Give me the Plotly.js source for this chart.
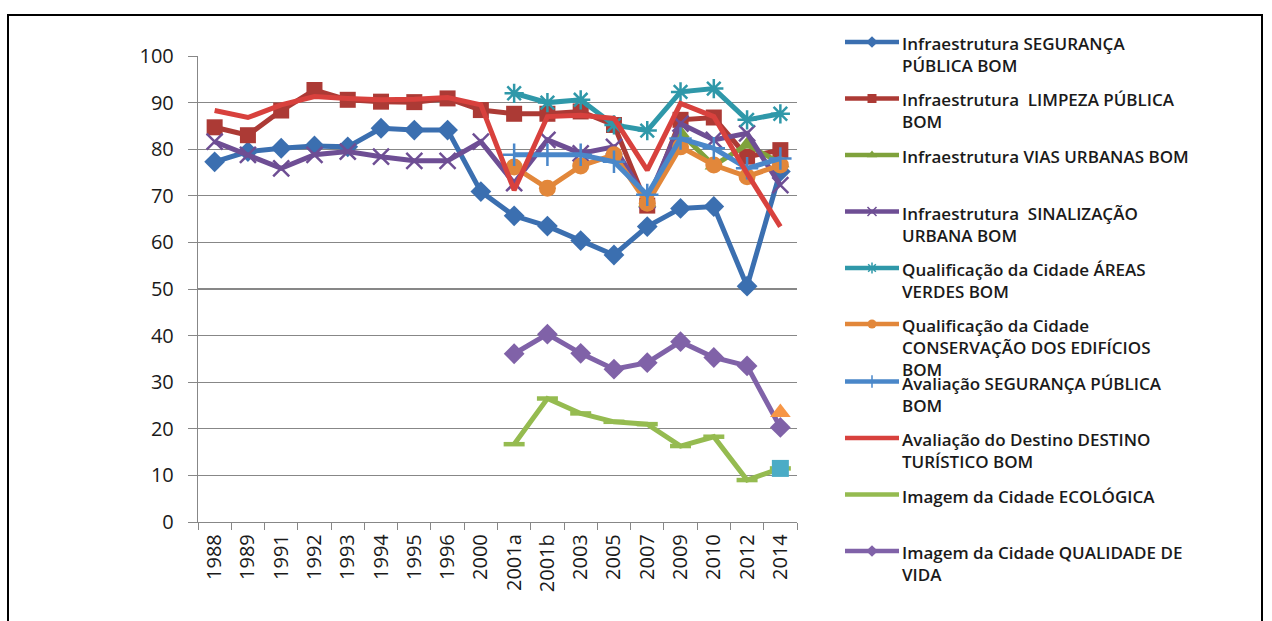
<!DOCTYPE html>
<html>
<head>
<meta charset="utf-8">
<script src="https://cdn.plot.ly/plotly-3.0.1.min.js"></script>
<style>
html,body{margin:0;padding:0;background:#fff;}
#chart{width:1272px;height:621px;}
</style>
</head>
<body>
<div id="chart"></div>
<script>
// ---- data ----
var categories = ['1988','1989','1991','1992','1993','1994','1995','1996','2000','2001a','2001b','2003','2005','2007','2009','2010','2012','2014'];

var seriesNames = [
  'Infraestrutura SEGURANÇA<br>PÚBLICA BOM',
  'Infraestrutura  LIMPEZA PÚBLICA<br>BOM',
  'Infraestrutura VIAS URBANAS BOM',
  'Infraestrutura  SINALIZAÇÃO<br>URBANA BOM',
  'Qualificação da Cidade ÁREAS<br>VERDES BOM',
  'Qualificação da Cidade<br>CONSERVAÇÃO DOS EDIFÍCIOS<br>BOM',
  'Avaliação SEGURANÇA PÚBLICA<br>BOM',
  'Avaliação do Destino DESTINO<br>TURÍSTICO BOM',
  'Imagem da Cidade ECOLÓGICA',
  'Imagem da Cidade QUALIDADE DE<br>VIDA'
];

var infraSeguranca = [77.3,79.5,80.2,80.7,80.5,84.5,84.1,84.1,70.9,65.7,63.5,60.4,57.3,63.4,67.3,67.7,50.6,75.2];
var infraLimpeza   = [84.7,83.0,88.3,92.7,90.6,90.2,90.1,90.9,88.4,87.6,87.6,88.1,85.2,67.9,86.3,86.8,78.4,79.8];
var infraVias      = [null,null,null,null,null,null,null,null,null,null,null,null,null,68.5,83.5,76.5,81.0,77.0];
var infraSinal     = [81.6,78.8,75.9,78.8,79.5,78.4,77.5,77.5,81.6,72.7,82.0,79.1,80.5,69.0,85.5,82.0,83.4,72.3];
var qualVerdes     = [null,null,null,null,null,null,null,null,null,92.0,90.0,90.6,85.2,84.0,92.3,93.0,86.3,87.6];
var qualConserv    = [null,null,null,null,null,null,null,null,null,76.2,71.6,76.4,78.8,68.4,80.5,76.6,74.1,76.6];
var avalSeguranca  = [null,null,null,null,null,null,null,null,null,78.8,78.8,78.8,77.3,70.2,82.3,80.2,75.9,78.0];
var avalDestino    = [88.3,86.8,89.5,91.3,90.9,90.6,90.7,91.1,89.5,71.2,87.0,87.3,86.6,75.5,89.8,87.0,74.8,63.4];
var imgEcologica   = [null,null,null,null,null,null,null,null,null,16.7,26.5,23.3,21.5,21.0,16.3,18.3,9.0,11.5];
var imgQualidade   = [null,null,null,null,null,null,null,null,null,36.1,40.3,36.2,32.8,34.2,38.7,35.3,33.5,20.3];
var extraTriangle  = [null,null,null,null,null,null,null,null,null,null,null,null,null,null,null,null,null,23.5];
var extraSquare    = [null,null,null,null,null,null,null,null,null,null,null,null,null,null,null,null,null,11.5];

var yTicks = [0,10,20,30,40,50,60,70,80,90,100];

// ---- styles ----
var W = 1272, H = 621;
var styles = [
  {c:'#3B6FB0', sym:'diamond', sz:16, lw:0},
  {c:'#AC3A35', sym:'square', sz:16, lw:0},
  {c:'#7FA23C', sym:'triangle-up', sz:16, lw:0},
  {c:'#6E4E94', sym:'x-thin', sz:16, lw:2.5},
  {c:'#2F98A9', sym:'asterisk', sz:16, lw:2.5},
  {c:'#E2873A', sym:'circle', sz:17, lw:0},
  {c:'#4A87C9', sym:'cross-thin', sz:16, lw:2.5},
  {c:'#D8413D', sym:null, sz:0, lw:0},
  {c:'#95BB50', sym:'line-ew', sz:15, lw:4.5},
  {c:'#8062A8', sym:'diamond', sz:16, lw:0}
];
var seriesData = [infraSeguranca, infraLimpeza, infraVias, infraSinal, qualVerdes, qualConserv, avalSeguranca, avalDestino, imgEcologica, imgQualidade];

var traces = [];
seriesData.forEach(function(d,i){
  var s = styles[i];
  var t = {
    type:'scatter', x:categories, y:d, name:seriesNames[i],
    mode: s.sym ? 'lines+markers' : 'lines',
    line:{color:s.c, width:5},
    connectgaps:false, showlegend:false, cliponaxis:false,
    xaxis:'x', yaxis:'y', hoverinfo:'skip'
  };
  if (s.sym) t.marker = {symbol:s.sym, size:s.sz, color:s.c, line:{color:s.c, width:s.lw}};
  traces.push(t);
});
traces.push({type:'scatter', x:categories, y:extraTriangle, mode:'markers', showlegend:false, cliponaxis:false,
  marker:{symbol:'triangle-up', size:18, color:'#F79646'}, hoverinfo:'skip'});
traces.push({type:'scatter', x:categories, y:extraSquare, mode:'markers', showlegend:false, cliponaxis:false,
  marker:{symbol:'square', size:17, color:'#4BACC6'}, hoverinfo:'skip'});

// ---- legend (custom) ----
var legendY = [42, 98.5, 155, 211.5, 268, 324, 381.5, 438, 494.5, 551];
var annotations = [];
styles.forEach(function(s,i){
  traces.push({type:'scatter', x:[845,899], y:[legendY[i],legendY[i]], mode:'lines', xaxis:'x2', yaxis:'y2',
    line:{color:s.c, width:4.5}, showlegend:false, hoverinfo:'skip', cliponaxis:false});
  if (s.sym) {
    traces.push({type:'scatter', x:[872], y:[legendY[i]], mode:'markers', xaxis:'x2', yaxis:'y2',
      marker:{symbol:s.sym, size:Math.round(s.sz*0.55), color:s.c, line:{color:s.c, width:Math.min(s.lw,1.5)}},
      showlegend:false, hoverinfo:'skip', cliponaxis:false});
  }
  annotations.push({xref:'paper', yref:'paper', x:900/W, y:1-(legendY[i]-12)/H, xanchor:'left', yanchor:'top',
    align:'left', showarrow:false, text:seriesNames[i],
    font:{family:'Open Sans, sans-serif', size:17, color:'#1a1a1a', weight:600}});
});

var layout = {
  width:W, height:H,
  margin:{l:0,r:0,t:0,b:0},
  paper_bgcolor:'#ffffff', plot_bgcolor:'#ffffff',
  showlegend:false,
  font:{family:'Open Sans, sans-serif', color:'#222'},
  xaxis:{
    domain:[198/W, 797/W], type:'category', categoryorder:'array', categoryarray:categories,
    range:[-0.5, categories.length-0.5], autorange:false,
    showgrid:false, zeroline:false, showline:true, linecolor:'#878787', linewidth:1.2,
    ticks:'outside', ticklen:7, tickcolor:'#878787', tickson:'boundaries',
    tickangle:-90, ticklabelstandoff:3, tickfont:{size:20, color:'#1a1a1a', family:'Open Sans, sans-serif'},
    automargin:false, fixedrange:true
  },
  yaxis:{
    domain:[(H-522)/H, (H-56)/H], range:[0,100], autorange:false,
    tickvals:yTicks, ticktext:yTicks.map(String),
    showgrid:true, gridcolor:'#878787', gridwidth:1.2, zeroline:false,
    showline:true, linecolor:'#878787', linewidth:1.2,
    ticks:'outside', ticklen:9, tickcolor:'#878787', ticklabelstandoff:10,
    tickfont:{size:20, color:'#1a1a1a', family:'Open Sans, sans-serif'},
    automargin:false, fixedrange:true
  },
  xaxis2:{domain:[845/W, 899/W], range:[845,899], autorange:false, visible:false, anchor:'y2', fixedrange:true},
  yaxis2:{domain:[0,1], range:[H,0], autorange:false, visible:false, anchor:'x2', fixedrange:true},
  annotations:annotations,
  shapes:[{type:'rect', xref:'paper', yref:'paper', x0:8/W, x1:1262/W, y0:1-630/H, y1:1-15/H,
    line:{color:'#000', width:2}, fillcolor:'rgba(0,0,0,0)'}]
};

Plotly.newPlot('chart', traces, layout, {staticPlot:true, displayModeBar:false});
</script>
</body>
</html>
